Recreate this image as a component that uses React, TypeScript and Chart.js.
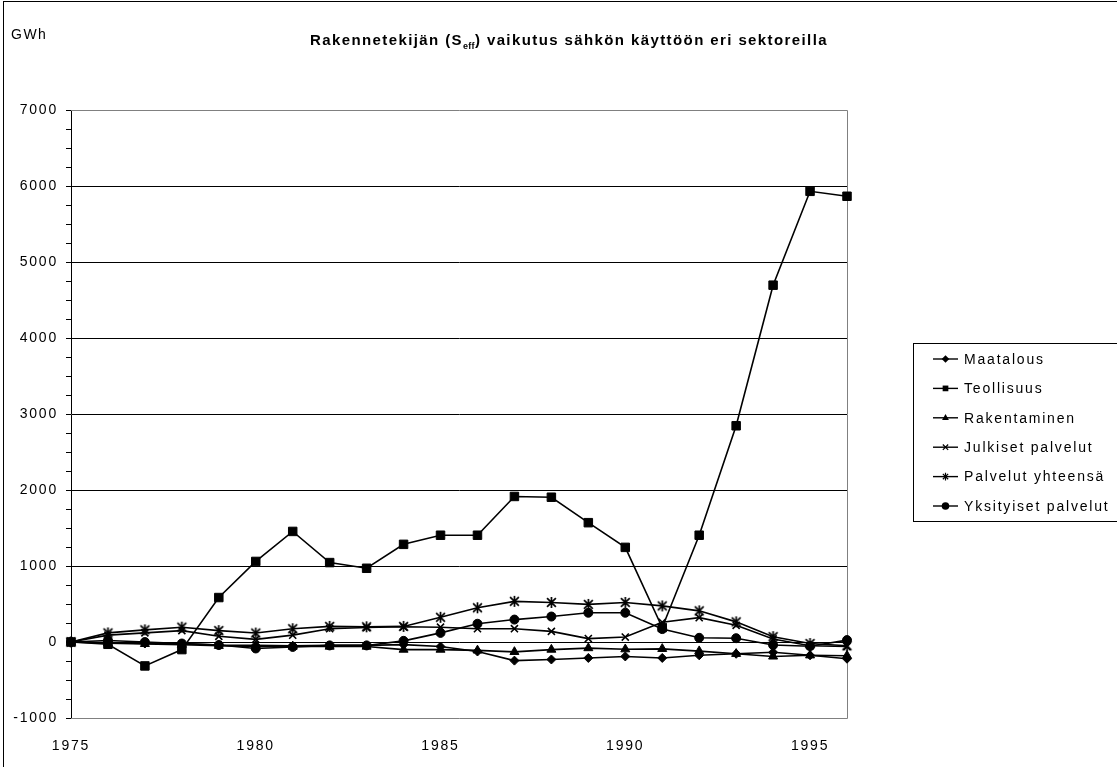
import React, { useEffect, useRef } from 'react';
import { Chart, registerables } from 'chart.js';

Chart.register(...registerables);

const years = ['1975', '1976', '1977', '1978', '1979', '1980', '1981', '1982', '1983', '1984', '1985', '1986', '1987', '1988', '1989', '1990', '1991', '1992', '1993', '1994', '1995', '1996'];
const xTickLabels = ['1975', '1980', '1985', '1990', '1995'];
const yMajorTicks = [-1000, 0, 1000, 2000, 3000, 4000, 5000, 6000, 7000];

const seriesNames = ['Maatalous', 'Teollisuus', 'Rakentaminen', 'Julkiset palvelut', 'Palvelut yhteensä', 'Yksityiset palvelut'];
const maatalous = [0, -10, -20, -20, -40, -45, -50, -45, -45, -35, -60, -125, -245, -230, -210, -190, -210, -175, -155, -135, -175, -220];
const teollisuus = [0, -30, -315, -100, 585, 1060, 1455, 1045, 970, 1285, 1405, 1405, 1915, 1905, 1570, 1245, 190, 1405, 2845, 4695, 5930, 5865];
const rakentaminen = [0, -15, -25, -35, -50, -60, -60, -60, -60, -100, -100, -110, -130, -100, -80, -95, -90, -120, -155, -190, -175, -180];
const julkisetPalvelut = [0, 90, 120, 150, 75, 35, 90, 175, 190, 200, 195, 175, 175, 140, 45, 65, 260, 320, 220, 40, -50, -60];
const palvelutYhteensa = [0, 120, 160, 195, 150, 118, 175, 205, 200, 205, 325, 450, 535, 520, 495, 520, 475, 410, 265, 70, -20, -50];
const yksityisetPalvelut = [0, 20, 0, -20, -40, -85, -65, -45, -45, 15, 120, 240, 295, 335, 385, 385, 170, 55, 50, -40, -55, 25];

const seriesValues = [maatalous, teollisuus, rakentaminen, julkisetPalvelut, palvelutYhteensa, yksityisetPalvelut];
const markerTypes = ['rectRot', 'rect', 'triangle', 'crossRot', 'asterisk', 'circle'];
const markerRadii = [4.5, 6, 5.2, 5, 5.5, 4.5];

const FONT = "'Liberation Sans', Arial, sans-serif";

function makeAsterisk(r: number): HTMLCanvasElement {
  const c = document.createElement('canvas');
  const s = Math.ceil(r * 2 + 4);
  c.width = s;
  c.height = s;
  const g = c.getContext('2d')!;
  const m = s / 2;
  g.strokeStyle = '#000';
  g.lineWidth = 1.7;
  g.beginPath();
  g.moveTo(m - r * 0.8, m - r * 0.8); g.lineTo(m + r * 0.8, m + r * 0.8);
  g.moveTo(m + r * 0.8, m - r * 0.8); g.lineTo(m - r * 0.8, m + r * 0.8);
  g.moveTo(m, m - r); g.lineTo(m, m + r);
  g.stroke();
  return c;
}

function drawMarker(ctx: CanvasRenderingContext2D, type: string, x: number, y: number, r: number) {
  ctx.save();
  ctx.fillStyle = '#000';
  ctx.strokeStyle = '#000';
  ctx.lineWidth = 1.2;
  ctx.beginPath();
  if (type === 'rectRot') {
    ctx.moveTo(x, y - r); ctx.lineTo(x + r, y); ctx.lineTo(x, y + r); ctx.lineTo(x - r, y); ctx.closePath(); ctx.fill();
  } else if (type === 'rect') {
    ctx.rect(x - r * 0.75, y - r * 0.75, r * 1.5, r * 1.5); ctx.fill();
  } else if (type === 'triangle') {
    ctx.moveTo(x, y - r); ctx.lineTo(x + r * 0.9, y + r * 0.6); ctx.lineTo(x - r * 0.9, y + r * 0.6); ctx.closePath(); ctx.fill();
  } else if (type === 'crossRot') {
    ctx.moveTo(x - r * 0.7, y - r * 0.7); ctx.lineTo(x + r * 0.7, y + r * 0.7);
    ctx.moveTo(x + r * 0.7, y - r * 0.7); ctx.lineTo(x - r * 0.7, y + r * 0.7); ctx.stroke();
  } else if (type === 'asterisk') {
    ctx.moveTo(x - r * 0.7, y - r * 0.7); ctx.lineTo(x + r * 0.7, y + r * 0.7);
    ctx.moveTo(x + r * 0.7, y - r * 0.7); ctx.lineTo(x - r * 0.7, y + r * 0.7);
    ctx.moveTo(x, y - r); ctx.lineTo(x, y + r); ctx.stroke();
  } else {
    ctx.arc(x, y, r, 0, Math.PI * 2); ctx.fill();
  }
  ctx.restore();
}

const spacingPlugin = {
  id: 'spacing',
  beforeDraw(chart: any) {
    (chart.ctx as any).letterSpacing = '1.8px';
  },
  afterDraw(chart: any) {
    (chart.ctx as any).letterSpacing = '0px';
  },
};

const plotBorderPlugin = {
  id: 'plotBorder',
  beforeDatasetsDraw(chart: any) {
    const { ctx, chartArea: a } = chart;
    ctx.save();
    ctx.strokeStyle = '#808080';
    ctx.lineWidth = 1;
    ctx.beginPath();
    ctx.moveTo(a.left, Math.round(a.top) + 0.5);
    ctx.lineTo(Math.round(a.right) + 0.5, Math.round(a.top) + 0.5);
    ctx.lineTo(Math.round(a.right) + 0.5, Math.round(a.bottom) + 0.5);
    ctx.lineTo(a.left, Math.round(a.bottom) + 0.5);
    ctx.stroke();
    ctx.restore();
  },
};

const legendPlugin = {
  id: 'boxLegend',
  afterDraw(chart: any) {
    const ctx: CanvasRenderingContext2D = chart.ctx;
    const boxLeft = 913.5;
    const boxTop = 343.5;
    const firstY = 359;
    const rowH = 29.4;
    const n = chart.data.datasets.length;
    ctx.save();
    (ctx as any).letterSpacing = '1.8px';
    ctx.strokeStyle = '#000';
    ctx.lineWidth = 1;
    ctx.strokeRect(boxLeft, boxTop, 400, (firstY - boxTop) * 2 + (n - 1) * rowH);
    ctx.font = `14px ${FONT}`;
    ctx.textBaseline = 'middle';
    ctx.fillStyle = '#000';
    chart.data.datasets.forEach((ds: any, i: number) => {
      const y = firstY + i * rowH;
      ctx.beginPath();
      ctx.lineWidth = 1.4;
      ctx.moveTo(933, y);
      ctx.lineTo(958, y);
      ctx.stroke();
      drawMarker(ctx, markerTypes[i], 945.5, y, 3.8);
      ctx.fillText(ds.label, 964, y + 1);
    });
    ctx.restore();
  },
};

export default function App() {
  const ref = useRef<HTMLCanvasElement | null>(null);

  useEffect(() => {
    if (!ref.current) return;
    const asterisk = makeAsterisk(5.5);
    const datasets = seriesNames.map((name, i) => ({
      label: name,
      data: seriesValues[i],
      borderColor: '#000',
      backgroundColor: '#000',
      borderWidth: 1.6,
      pointStyle: markerTypes[i] === 'asterisk' ? asterisk : markerTypes[i],
      pointRadius: markerRadii[i],
      pointHoverRadius: markerRadii[i],
      pointBackgroundColor: '#000',
      pointBorderColor: '#000',
      pointBorderWidth: markerTypes[i] === 'crossRot' ? 1.6 : 1,
      tension: 0,
      fill: false,
    }));

    const chart = new Chart(ref.current, {
      type: 'line',
      data: { labels: years, datasets: datasets as any },
      plugins: [spacingPlugin, plotBorderPlugin, legendPlugin],
      options: {
        responsive: false,
        animation: false,
        layout: { padding: { left: 0, top: 110, right: 270, bottom: 0 } },
        plugins: {
          legend: { display: false },
          title: { display: false },
          tooltip: { enabled: false },
        },
        scales: {
          x: {
            type: 'category',
            offset: false,
            grid: { color: 'transparent', drawTicks: false },
            border: { display: false },
            ticks: {
              autoSkip: false,
              maxRotation: 0,
              minRotation: 0,
              padding: 20,
              color: '#000',
              font: { family: FONT, size: 14 },
              callback: (_v: any, idx: number) => (xTickLabels.includes(years[idx]) ? years[idx] : ''),
            },
            afterFit: (s: any) => { s.height = 49; },
          },
          y: {
            min: -1000,
            max: 7000,
            afterBuildTicks: (s: any) => {
              const t: { value: number }[] = [];
              for (let k = 0; k < yMajorTicks.length; k++) {
                t.push({ value: yMajorTicks[k] });
                if (k < yMajorTicks.length - 1) {
                  const step = (yMajorTicks[k + 1] - yMajorTicks[k]) / 4;
                  for (let j = 1; j < 4; j++) t.push({ value: yMajorTicks[k] + j * step });
                }
              }
              s.ticks = t;
            },
            grid: {
              color: (c: any) => {
                const v = c.tick ? c.tick.value : NaN;
                return yMajorTicks.includes(v) && v > -1000 && v < 7000 ? '#000' : 'transparent';
              },
              tickColor: '#000',
              tickLength: 5,
              lineWidth: 1,
            },
            border: { display: true, color: '#000', width: 1 },
            ticks: {
              autoSkip: false,
              padding: 8,
              color: '#000',
              font: { family: FONT, size: 14 },
              callback: (v: any) => (yMajorTicks.includes(Number(v)) ? String(v) : ''),
            },
            afterFit: (s: any) => { s.width = 71; },
          },
        },
      },
    });
    return () => chart.destroy();
  }, []);

  return (
    <div style={{ position: 'fixed', left: 0, top: 0, width: 1117, height: 767, background: '#fff', overflow: 'hidden', fontFamily: FONT }}>
      <div style={{ position: 'absolute', left: 3, top: 1, width: 1300, height: 1000, border: '1px solid #000', boxSizing: 'border-box' }} />
      <canvas ref={ref} width={1117} height={767} style={{ position: 'absolute', left: 0, top: 0 }} />
      <div style={{ position: 'absolute', left: 11, top: 26, fontSize: 14, letterSpacing: '1.5px', color: '#000' }}>GWh</div>
      <div style={{ position: 'absolute', left: 0, top: 31, width: 1138, textAlign: 'center', fontSize: 15, fontWeight: 'bold', letterSpacing: '1.4px', color: '#000' }}>
        Rakennetekijän (S<span style={{ fontSize: 9, verticalAlign: '-4px', letterSpacing: '0.3px' }}>eff</span>) vaikutus sähkön käyttöön eri sektoreilla
      </div>
    </div>
  );
}
